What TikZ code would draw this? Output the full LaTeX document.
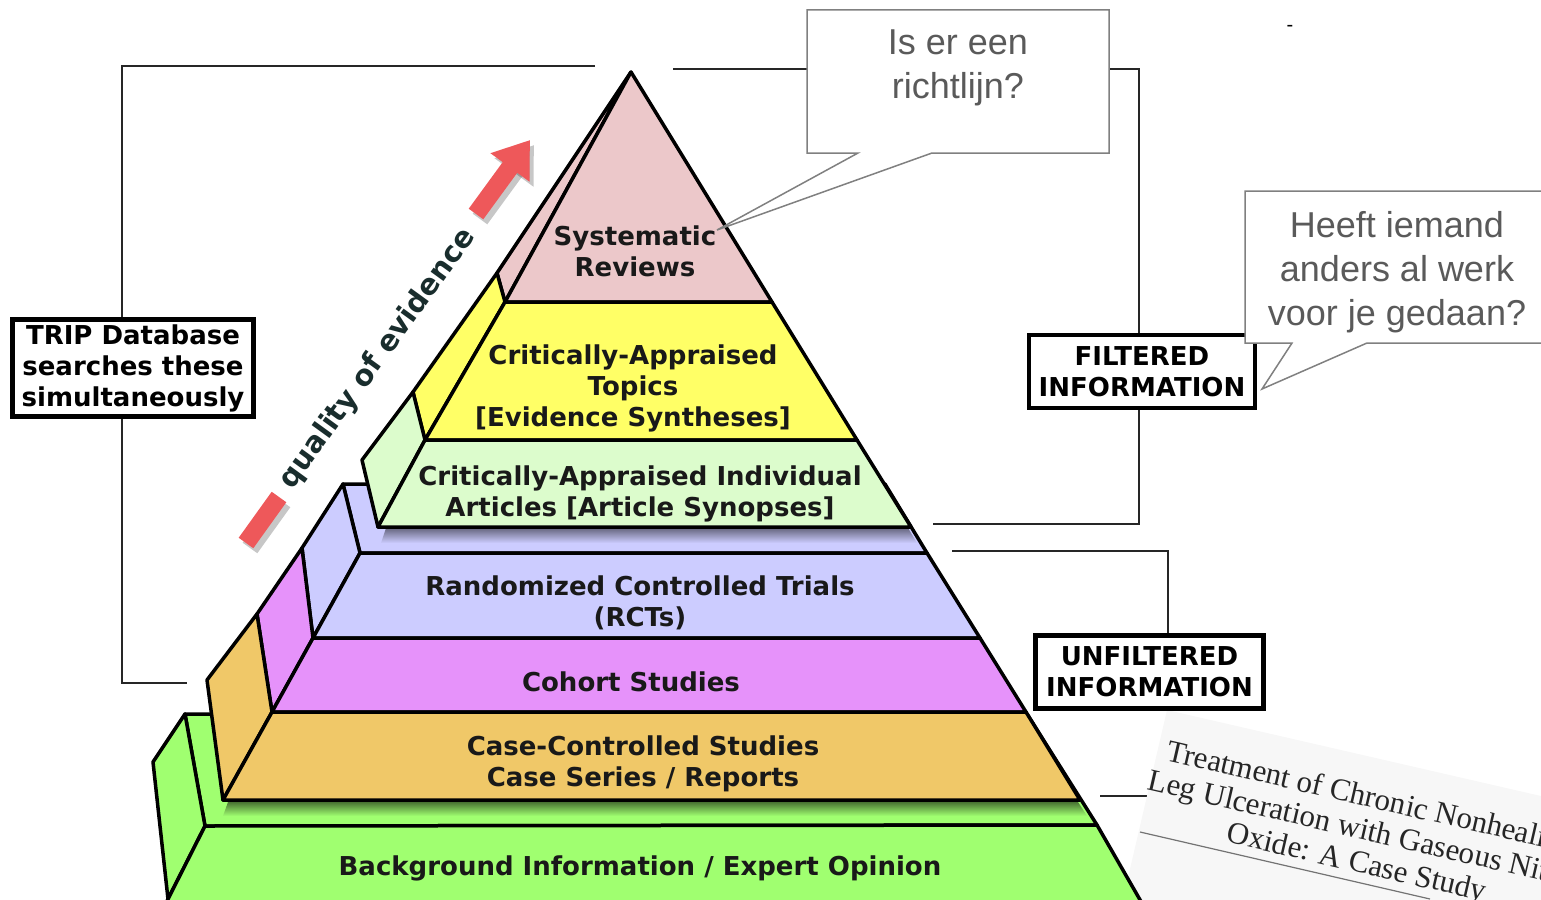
\documentclass[tikz,border=0pt]{standalone}
\usepackage{fontspec}
\usetikzlibrary{arrows.meta}
\newfontfamily\labsans{DejaVu Sans}
\newfontfamily\callsans{Liberation Sans}
\newfontfamily\paperserif{Liberation Serif}
\definecolor{srpink}{RGB}{236,200,202}
\definecolor{catyellow}{RGB}{255,255,102}
\definecolor{cailgreen}{RGB}{220,252,204}
\definecolor{rctblue}{RGB}{204,204,255}
\definecolor{cohortpink}{RGB}{230,146,250}
\definecolor{caseorange}{RGB}{240,200,104}
\definecolor{bggreen}{RGB}{160,255,112}
\definecolor{arrowred}{RGB}{238,88,90}
\definecolor{calloutgray}{RGB}{128,128,128}
\definecolor{callouttext}{RGB}{90,90,90}
\definecolor{qualtext}{RGB}{25,45,45}
\pgfdeclarelayer{back}
\pgfsetlayers{back,main}
\begin{document}
\begin{tikzpicture}[x=1pt,y=-1pt,
    face/.style={draw=black,line width=3.5pt,line join=round},
    lab/.style={align=center,inner sep=0pt,text=black!90,font={\labsans\bfseries\fontsize{26}{31}\selectfont}},
    infobox/.style={draw=black,line width=4.5pt,fill=white,align=center,inner sep=2pt,font={\labsans\bfseries\fontsize{26}{31}\selectfont}},
    bracket/.style={black!85,line width=2pt},
    callout/.style={draw=calloutgray,line width=1.5pt,fill=white},
    calltext/.style={align=center,inner sep=0pt,text=callouttext,font={\callsans\fontsize{36}{44}\selectfont}}]
    \useasboundingbox (0,0) rectangle (1541,899);

    % Bottom block: top face, side and front
    \draw[face,fill=bggreen] (185,714) -- (1027,714) -- (1097,825) -- (205,826) -- cycle;
    \shade[top color=black!55!bggreen,bottom color=bggreen] (228,802) -- (1078,802) -- (1087,816) -- (223,816) -- cycle;
    \draw[face,fill=bggreen] (185,714) -- (205,826) -- (168,899) -- (153,762) -- cycle;
    \draw[face,fill=bggreen] (205,826) -- (1097,825) -- (1143,905) -- (165,905) -- cycle;

    % Middle block
    \draw[face,fill=rctblue] (343,484) -- (885,484) -- (927,553) -- (360,553) -- cycle; % top face
    \shade[top color=black!50!rctblue,bottom color=rctblue] (386,528) -- (908,528) -- (917,543) -- (381,543) -- cycle;
    \draw[face,fill=rctblue] (343,484) -- (360,553) -- (313,638) -- (302,548) -- cycle;
    \draw[face,fill=cohortpink] (302,548) -- (313,638) -- (272,712) -- (257,614) -- cycle;
    \draw[face,fill=caseorange] (257,614) -- (272,712) -- (223,800) -- (207,680) -- cycle;
    \draw[face,fill=rctblue] (360,553) -- (927,553) -- (980,638) -- (313,638) -- cycle;
    \draw[face,fill=cohortpink] (313,638) -- (980,638) -- (1026,712) -- (272,712) -- cycle;
    \draw[face,fill=caseorange] (272,712) -- (1026,712) -- (1080,800) -- (223,800) -- cycle;

    % Top block
    \draw[face,fill=srpink] (631,72) -- (497,273) -- (505,302) -- cycle;
    \draw[face,fill=catyellow] (497,273) -- (505,302) -- (425,440) -- (413,392) -- cycle;
    \draw[face,fill=cailgreen] (413,392) -- (425,440) -- (378,527) -- (362,460) -- cycle;
    \draw[face,fill=srpink] (631,72) -- (772,302) -- (505,302) -- cycle;
    \draw[face,fill=catyellow] (505,302) -- (772,302) -- (857,440) -- (425,440) -- cycle;
    \draw[face,fill=cailgreen] (425,440) -- (857,440) -- (911,527) -- (378,527) -- cycle;

    % Layer labels
    \node[lab] (sysrev) at (635,251) {Systematic\\Reviews};
    \node[lab] (topics) at (633,388) {Critically-Appraised\\Topics\\{[}Evidence Syntheses{]}};
    \node[lab] (synopses) at (640,494) {Critically-Appraised Individual\\Articles [Article Synopses]};
    \node[lab] (rct) at (640,603) {Randomized Controlled Trials\\(RCTs)};
    \node[lab] (cohort) at (631,682) {Cohort Studies};
    \node[lab] (casecon) at (643,764) {Case-Controlled Studies\\Case Series / Reports};
    \node[lab] (background) at (640,868) {Background Information / Expert Opinion};

    % Quality of evidence arrow
    \coordinate (barStart) at (246,543);
    \coordinate (barEnd) at (279,497);
    \coordinate (qualStart) at (476,214);
    \coordinate (qualTip) at (530,140);
    \draw[black,opacity=0.22,line width=18pt] ([shift={(4,5)}]barStart) -- ([shift={(4,5)}]barEnd);
    \draw[arrowred,line width=18pt] (barStart) -- (barEnd);
    \draw[black,opacity=0.22,line width=18pt,-{Triangle[width=46pt,length=34pt]}] ([shift={(4,5)}]qualStart) -- ([shift={(4,5)}]qualTip);
    \draw[arrowred,line width=18pt,-{Triangle[width=46pt,length=34pt]}] (qualStart) -- (qualTip);
    \node[rotate=54,text=qualtext,font={\labsans\bfseries\fontsize{29}{34}\selectfont}] (quality) at (378,359) {quality of evidence};

    % Side boxes
    \node[infobox,minimum width=241pt,minimum height=97pt] (trip) at (133,368) {TRIP Database\\searches these\\simultaneously};
    \node[infobox,minimum width=226pt,minimum height=73pt] (filtered) at (1142,371.5) {FILTERED\\INFORMATION};
    \node[infobox,minimum width=228pt,minimum height=73pt] (unfiltered) at (1149.5,672) {UNFILTERED\\INFORMATION};

    \coordinate (tripTop) at (595,66);
    \coordinate (tripBot) at (187,683);
    \coordinate (filtTop) at (673,69);
    \coordinate (filtBot) at (933,524);
    \coordinate (unfTop) at (952,551);
    \coordinate (unfBot) at (1100,796);

    \begin{pgfonlayer}{back}
        % Brackets
        \draw[bracket] (tripTop) -| ([xshift=-11pt]trip.north);
        \draw[bracket] ([xshift=-11pt]trip.south) |- (tripBot);
        \draw[bracket] (filtTop) -| ([xshift=-3pt]filtered.north);
        \draw[bracket] ([xshift=-3pt]filtered.south) |- (filtBot);
        \draw[bracket] (unfTop) -| ([xshift=18pt]unfiltered.north);
        \draw[bracket] ([xshift=18pt]unfiltered.south) |- (unfBot);

        % Article title snippet
        \fill[black!3] (1167,710) -- (1654,822) -- (1586,1114) -- (1099,1002) -- cycle;
        \draw[black!55,line width=1.2pt] (1140,832) -- (1430,899);
        \node[rotate=-13,align=center,inner sep=0pt,text=black!85,font={\paperserif\fontsize{31}{33}\selectfont}] (casestudy) at (1364,832) {Treatment of Chronic Nonhealing\\Leg Ulceration with Gaseous Nitric\\Oxide: A Case Study};
    \end{pgfonlayer}

    % Callouts
    \draw[callout] (807,10) -- (1109,10) -- (1109,153) -- (932,153) -- (717,230) -- (858,153) -- (807,153) -- cycle;
    \node[calltext] (guideline) at (958,68) {Is er een\\richtlijn?};
    \draw[callout] (1245,191) -- (1560,191) -- (1560,343) -- (1367,343) -- (1262,389) -- (1292,343) -- (1245,343) -- cycle;
    \node[calltext] (someone) at (1397,272) {Heeft iemand\\anders al werk\\voor je gedaan?};

    \node[font={\callsans\fontsize{20}{24}\selectfont},inner sep=0pt] (dash) at (1290,28) {-};
\end{tikzpicture}
\end{document}
